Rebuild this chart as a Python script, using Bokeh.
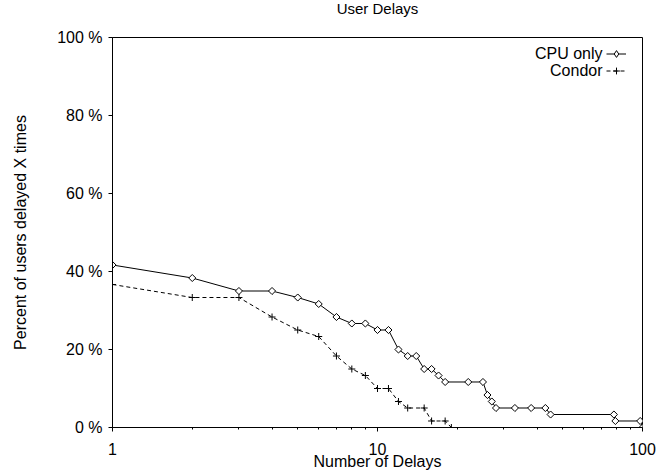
import numpy as np
from bokeh.plotting import figure
from bokeh.models import (FixedTicker, Legend, LegendItem, Label, ColumnDataSource,
                          CDSView, IndexFilter)
from bokeh.embed import file_html
from bokeh.resources import INLINE

# ---- data ----
cpu_x = [1, 2, 3, 4, 5, 6, 7, 8, 9, 10, 11, 12, 13, 14, 15, 16, 17, 18, 22, 25,
         26, 27, 28, 33, 38, 43, 45, 78, 79, 98, 100]
cpu_y = [41.67, 38.33, 35.0, 35.0, 33.33, 31.67, 28.33, 26.67, 26.67, 25.0, 25.0,
         20.0, 18.33, 18.33, 15.0, 15.0, 13.33, 11.67, 11.67, 11.67,
         8.33, 6.67, 5.0, 5.0, 5.0, 5.0, 3.33, 3.33, 1.67, 1.67, 0.0]

condor_x = [1, 2, 3, 4, 5, 6, 7, 8, 9, 10, 11, 12, 13, 15, 16, 18, 19]
condor_y = [36.67, 33.33, 33.33, 28.33, 25.0, 23.33, 18.33, 15.0, 13.33, 10.0, 10.0,
            6.67, 5.0, 5.0, 1.67, 1.67, 0.0]

series_names = ["CPU only", "Condor"]
title_text = "User Delays"
x_label = "Number of Delays"
y_label = "Percent of users delayed X times"
x_ticks = [1, 10, 100]
x_tick_labels = ["1", "10", "100"]
x_minor = [2, 3, 4, 5, 6, 7, 8, 9, 20, 30, 40, 50, 60, 70, 80, 90]
y_ticks = [0, 20, 40, 60, 80, 100]
y_tick_labels = ["0 %", "20 %", "40 %", "60 %", "80 %", "100 %"]

FONT = "Liberation Sans"
W, H = 659, 472
B_LEFT, B_RIGHT, B_TOP, B_BOTTOM = 112, 17, 37, 45
FRAME_W = W - B_LEFT - B_RIGHT
FRAME_H = H - B_TOP - B_BOTTOM

p = figure(width=W, height=H, x_axis_type="log", x_range=(1, 100), y_range=(0, 100),
           output_backend="svg", toolbar_location=None,
           min_border_left=B_LEFT, min_border_right=B_RIGHT,
           min_border_top=B_TOP, min_border_bottom=B_BOTTOM)
p.title.visible = False

p.xgrid.visible = False
p.ygrid.visible = False
p.outline_line_color = "black"
p.outline_line_alpha = 1.0
p.outline_line_width = 1
p.background_fill_color = "white"
p.border_fill_color = "white"

xa = p.xaxis[0]
xa.ticker = FixedTicker(ticks=x_ticks, minor_ticks=x_minor)
xa.major_label_overrides = {t: l for t, l in zip(x_ticks, x_tick_labels)}
xa.axis_label = x_label

ya = p.yaxis[0]
ya.ticker = FixedTicker(ticks=y_ticks, minor_ticks=[])
ya.major_label_overrides = {t: l for t, l in zip(y_ticks, y_tick_labels)}
ya.axis_label = y_label

for ax in (xa, ya):
    ax.axis_line_color = "black"
    ax.major_tick_line_color = "black"
    ax.minor_tick_line_color = "black"
    ax.major_tick_in = 0
    ax.major_tick_out = 4
    ax.minor_tick_in = 0
    ax.minor_tick_out = 2
    ax.major_label_text_font = FONT
    ax.major_label_text_font_size = "16px"
    ax.major_label_text_color = "black"
    ax.axis_label_text_font = FONT
    ax.axis_label_text_font_size = "16px"
    ax.axis_label_text_font_style = "normal"
    ax.axis_label_text_color = "black"

xa.major_label_standoff = 11
xa.axis_label_standoff = -5
ya.major_label_standoff = 6
ya.axis_label_standoff = 25

cpu_src = ColumnDataSource(dict(x=cpu_x, y=cpu_y))
con_src = ColumnDataSource(dict(x=condor_x, y=condor_y))

cpu_line = p.line("x", "y", source=cpu_src, line_color="black", line_width=1)
# diamond key for the legend (hidden beneath the first plotted marker)
cpu_key = p.scatter("x", "y", source=cpu_src, view=CDSView(filter=IndexFilter([0])),
                    marker="diamond", size=7, line_color="black", fill_color="white",
                    line_width=1)
cpu_pts = p.scatter("x", "y", source=cpu_src, marker="square", angle=np.pi / 4, size=5,
                    line_color="black", fill_color="white", line_width=1)
con_line = p.line("x", "y", source=con_src, line_color="black", line_width=1, line_dash="4 3")
con_pts = p.scatter("x", "y", source=con_src, marker="cross", size=7,
                    line_color="black", line_width=1)

legend = Legend(items=[LegendItem(label=" ", renderers=[cpu_line, cpu_key]),
                       LegendItem(label=" ", renderers=[con_line, con_pts])],
                location=(494, FRAME_H - 41.5), orientation="vertical",
                glyph_width=20, glyph_height=17, label_width=0, label_standoff=0,
                label_text_font_size="12px", label_height=17,
                padding=0, spacing=0, margin=0,
                border_line_color=None, background_fill_alpha=0)
p.add_layout(legend)

for i, name in enumerate(series_names):
    p.add_layout(Label(x=490, y=FRAME_H - 16 - 17 * i, x_units="screen", y_units="screen",
                       text=name, text_align="right", text_baseline="middle",
                       text_font=FONT, text_font_size="16px", text_color="black"))

# title drawn as a label in the top panel
p.add_layout(Label(x=FRAME_W / 2, y=29, x_units="screen", y_units="screen",
                   text=title_text, text_align="center", text_baseline="middle",
                   text_font=FONT, text_font_size="15px", text_color="black"), "above")

open("out.html", "w").write(file_html(p, INLINE))
